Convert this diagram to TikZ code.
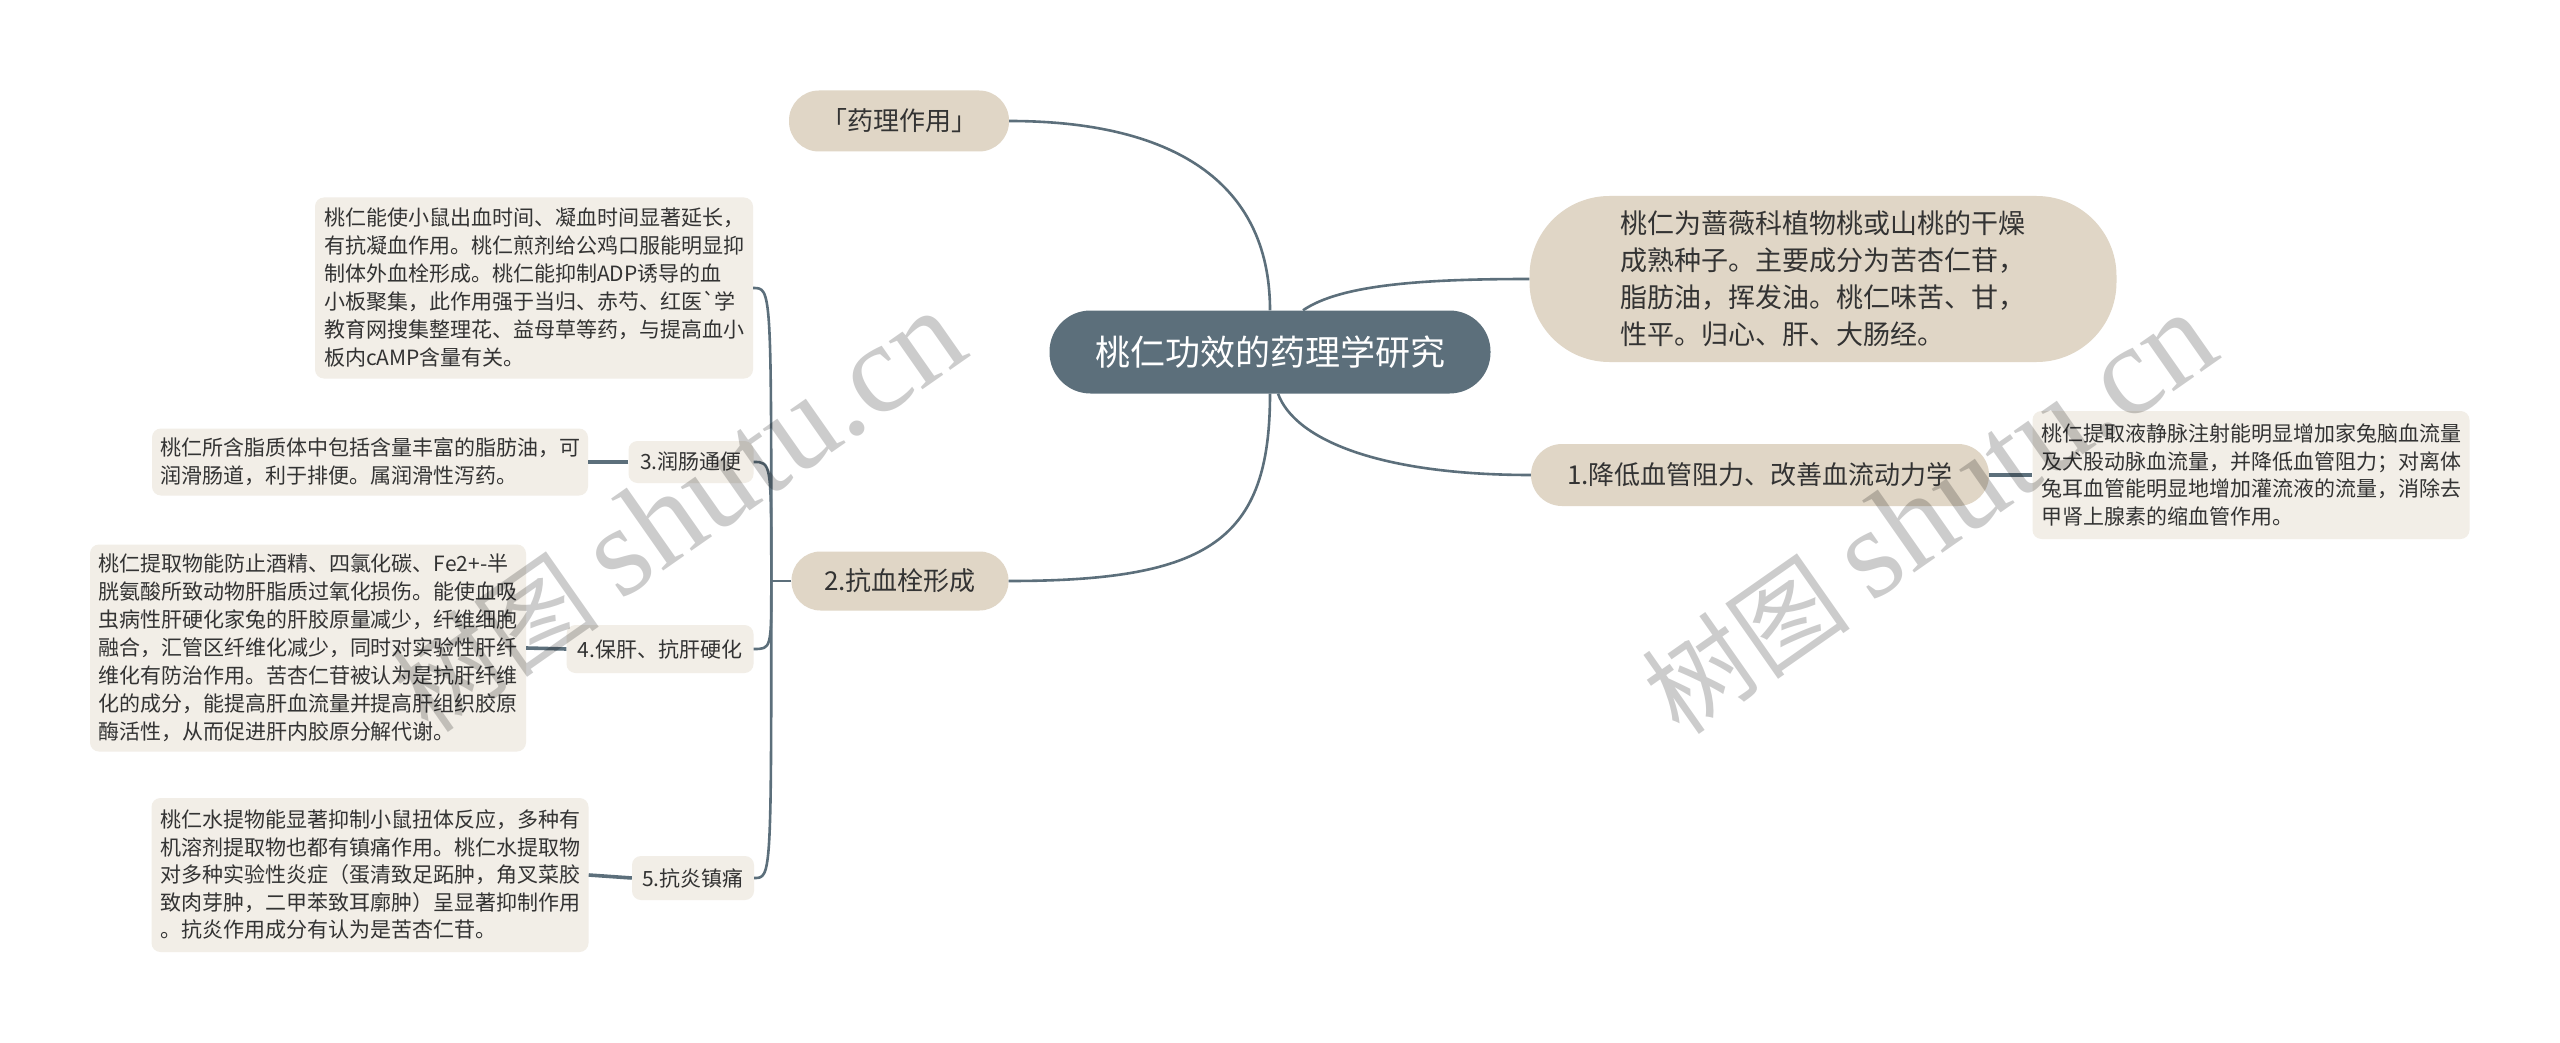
\documentclass[tikz,border=0pt]{standalone}
\usepackage{fontspec}
\setmainfont{Noto Sans CJK SC}[Ligatures=TeXOff]
\newfontfamily\wmserif{Liberation Serif}
\usetikzlibrary{calc}
\definecolor{slate}{HTML}{5C6F7B}
\definecolor{beige}{HTML}{E0D6C6}
\definecolor{pale}{HTML}{F2EEE7}
\definecolor{ink}{HTML}{333333}
\begin{document}
\begin{tikzpicture}[x=1pt,y=-1pt,
  link/.style={draw=slate,line width=2.6pt},
  stub/.style={draw=slate,line width=3.6pt},
  mainbox/.style={fill=beige,text=ink,inner sep=0pt,align=left},
  leafbox/.style={fill=pale,text=ink,rounded corners=9pt,inner sep=0pt,align=left,font=\fontsize{21}{28}\selectfont},
  labelbox/.style={fill=pale,text=ink,rounded corners=9pt,inner sep=0pt,font=\fontsize{21}{26}\selectfont},
  wmark/.style={rotate=35,text=black,text opacity=0.2,font=\fontsize{105}{115}\selectfont}]
\useasboundingbox (0,0) rectangle (2560,1043);
\fill[white] (0,0) rectangle (2560,1043);

% central
\node[mainbox,fill=slate,text=white,minimum width=441pt,minimum height=83pt,rounded corners=41pt,font=\fontsize{35}{42}\selectfont] (root) at (1270,352) {桃仁功效的药理学研究};

% main branches
\node[mainbox,minimum width=220pt,minimum height=61pt,rounded corners=30pt,font=\fontsize{26}{32}\selectfont] (yaoli) at (899,121) {「药理作用」};
\node[mainbox,minimum width=217pt,minimum height=59pt,rounded corners=29pt,font=\fontsize{26}{32}\selectfont] (n2) at (900,581) {2.抗血栓形成};
\node[mainbox,minimum width=587pt,minimum height=166pt,rounded corners=80pt,font=\fontsize{27}{37}\selectfont] (intro) at (1823,279) {桃仁为蔷薇科植物桃或山桃的干燥\\成熟种子。主要成分为苦杏仁苷，\\脂肪油，挥发油。桃仁味苦、甘，\\性平。归心、肝、大肠经。};
\node[mainbox,minimum width=458pt,minimum height=62pt,rounded corners=31pt,font=\fontsize{26}{32}\selectfont] (n1) at (1760,475) {1.降低血管阻力、改善血流动力学};

% right leaf
\node[leafbox,minimum width=437pt,minimum height=128pt,font=\fontsize{21}{27.5}\selectfont] (rbox) at (2251,475) {桃仁提取液静脉注射能明显增加家兔脑血流量\\及犬股动脉血流量，并降低血管阻力；对离体\\兔耳血管能明显地增加灌流液的流量，消除去\\甲肾上腺素的缩血管作用。};

% left subtree
\node[leafbox,minimum width=438pt,minimum height=181pt] (box1) at (534,288) {桃仁能使小鼠出血时间、凝血时间显著延长，\\有抗凝血作用。桃仁煎剂给公鸡口服能明显抑\\制体外血栓形成。桃仁能抑制ADP诱导的血\\小板聚集，此作用强于当归、赤芍、红医`学\\教育网搜集整理花、益母草等药，与提高血小\\板内cAMP含量有关。};

\node[labelbox,minimum width=125pt,minimum height=42pt] (c3) at (691,462) {3.润肠通便};
\node[leafbox,minimum width=436pt,minimum height=67pt] (box3) at (370,462) {桃仁所含脂质体中包括含量丰富的脂肪油，可\\润滑肠道，利于排便。属润滑性泻药。};

\node[labelbox,minimum width=187pt,minimum height=48pt] (c4) at (660,649) {4.保肝、抗肝硬化};
\node[leafbox,minimum width=436pt,minimum height=207pt] (box4) at (308,648) {桃仁提取物能防止酒精、四氯化碳、Fe2+-半\\胱氨酸所致动物肝脂质过氧化损伤。能使血吸\\虫病性肝硬化家兔的肝胶原量减少，纤维细胞\\融合，汇管区纤维化减少，同时对实验性肝纤\\维化有防治作用。苦杏仁苷被认为是抗肝纤维\\化的成分，能提高肝血流量并提高肝组织胶原\\酶活性，从而促进肝内胶原分解代谢。};

\node[labelbox,minimum width=122pt,minimum height=44pt] (c5) at (693,878) {5.抗炎镇痛};
\node[leafbox,minimum width=437pt,minimum height=154pt,font=\fontsize{21}{27.5}\selectfont] (box5) at (370,875) {桃仁水提物能显著抑制小鼠扭体反应，多种有\\机溶剂提取物也都有镇痛作用。桃仁水提取物\\对多种实验性炎症（蛋清致足跖肿，角叉菜胶\\致肉芽肿，二甲苯致耳廓肿）呈显著抑制作用\\。抗炎作用成分有认为是苦杏仁苷。};

% connectors from root
\draw[link] (root.north) .. controls (1270,180) and (1170,121) .. (yaoli.east);
\draw[link] (root.south) .. controls (1270,540) and (1210,581) .. (n2.east);
\draw[link] ($(root.north)+(33,0)$) .. controls (1340,285) and (1420,279) .. (intro.west);
\draw[link] ($(root.south)+(8,0)$) .. controls (1295,440) and (1380,475) .. (n1.west);

\draw[stub] (n1.east) -- (rbox.west);

% subtree of n2
\coordinate (bus) at ($(n2.west)+(-20,0)$);
\draw[link] (n2.west) -- (bus);
\foreach \c in {box1,c3,c4,c5}
  \draw[link] (bus) .. controls (bus |- \c.east) .. (\c.east);
\draw[stub] (c3.west) -- (box3.east);
\draw[stub] (c4.west) -- (box4.east);
\draw[stub] (c5.west) -- (box5.east);

% watermarks
\node[wmark] (wm1) at (678,512) {树图 {\wmserif\fontsize{128}{140}\selectfont shutu.cn}};
\node[wmark] (wm2) at (1929,514) {树图 {\wmserif\fontsize{128}{140}\selectfont shutu.cn}};
\end{tikzpicture}
\end{document}
